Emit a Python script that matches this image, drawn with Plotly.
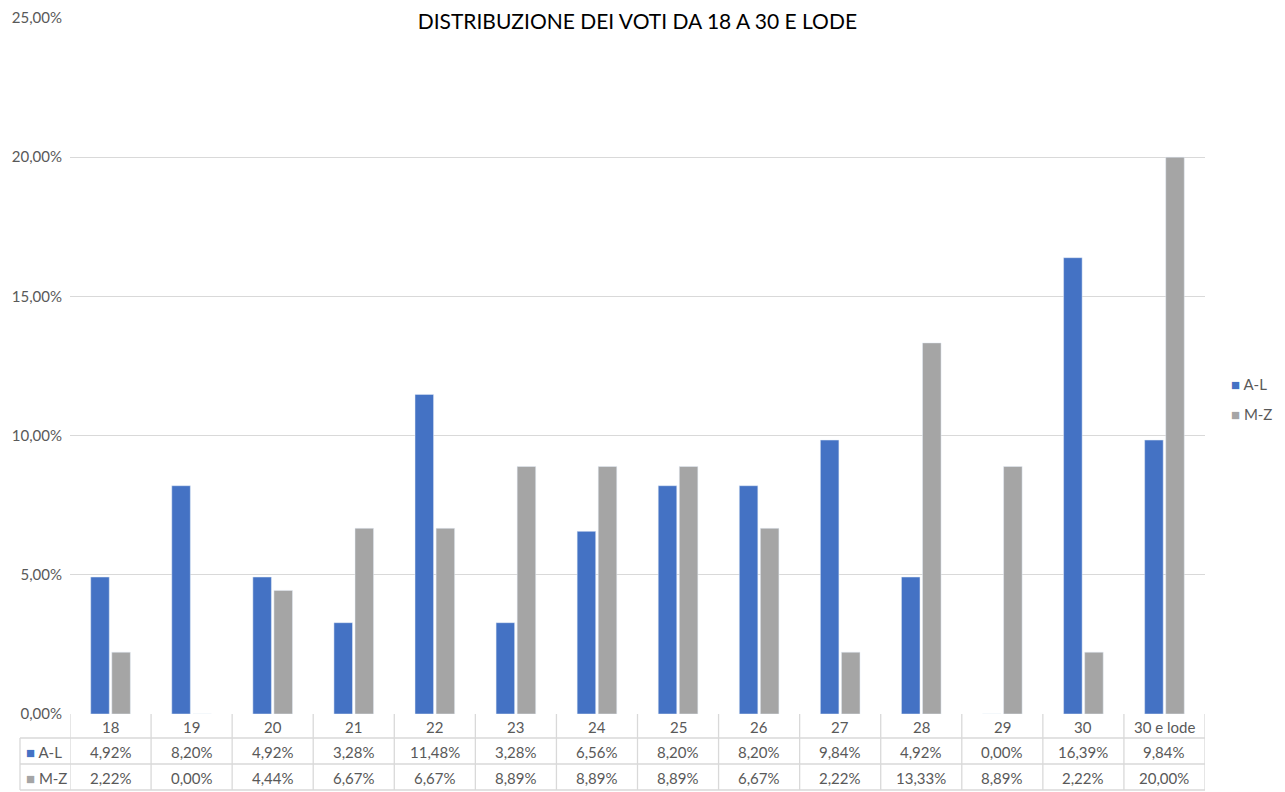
import plotly.graph_objects as go

categories = ["18", "19", "20", "21", "22", "23", "24", "25", "26", "27", "28", "29", "30", "30 e lode"]
al_values = [4.92, 8.20, 4.92, 3.28, 11.48, 3.28, 6.56, 8.20, 8.20, 9.84, 4.92, 0.00, 16.39, 9.84]
mz_values = [2.22, 0.00, 4.44, 6.67, 6.67, 8.89, 8.89, 8.89, 6.67, 2.22, 13.33, 8.89, 2.22, 20.00]
series_names = ["A-L", "M-Z"]
series_colors = ["#4472C4", "#A5A5A5"]

W, H = 1285, 792
ML, MR, MT, MB = 70, 80, 18, 78
PW = W - ML - MR
PH = H - MT - MB
FONT = "Lato, 'Open Sans', sans-serif"
TXT = "#595959"
GRID = "#D9D9D9"
FS = 15

def py(px_below):
    return -px_below / PH

def py_abs(px_y):
    return 1 - (px_y - MT) / PH

def px_x(px):
    return (px - ML) / PW

fig = go.Figure()
for name, vals, col in zip(series_names, [al_values, mz_values], series_colors):
    fig.add_trace(go.Bar(x=categories, y=[v / 100 for v in vals], name=name,
                         marker_color=col))

shapes = []
annotations = []
n = len(categories)
row_h = [24, 26, 26]
y_acc = 0
for i, h in enumerate(row_h):
    y_acc += h
    shapes.append(dict(type="line", xref="paper", yref="paper", x0=px_x(20), x1=1,
                       y0=py(y_acc), y1=py(y_acc), line=dict(color=GRID, width=1.3)))
total = sum(row_h)
for i in range(n + 1):
    shapes.append(dict(type="line", xref="x", yref="paper", x0=i - 0.5, x1=i - 0.5,
                       y0=0, y1=py(total), line=dict(color=GRID, width=1.3)))
shapes.append(dict(type="line", xref="paper", yref="paper", x0=px_x(20), x1=px_x(20),
                   y0=py(row_h[0]), y1=py(total), line=dict(color=GRID, width=1.3)))

def fmt(v):
    return f"{v:.2f}%".replace(".", ",")

def ann(**kw):
    base = dict(showarrow=False, yanchor="middle", xanchor="center",
                font=dict(size=FS, color=TXT, family=FONT))
    base.update(kw)
    annotations.append(base)

for i, c in enumerate(categories):
    ann(x=i, y=py(row_h[0] / 2 + 1), xref="x", yref="paper", text=c)
    for r, vals in enumerate([al_values, mz_values]):
        yc = row_h[0] + sum(row_h[1:1 + r]) + row_h[1 + r] / 2 + 1
        ann(x=i, y=py(yc), xref="x", yref="paper", text=fmt(vals[i]))
for r, (name, col) in enumerate(zip(series_names, series_colors)):
    yc = row_h[0] + sum(row_h[1:1 + r]) + row_h[1 + r] / 2 + 1
    ann(x=px_x(24), y=py(yc), xref="paper", yref="paper", xanchor="left",
        text=f"<span style='color:{col}'>■</span> {name}")
for r, (name, col) in enumerate(zip(series_names, series_colors)):
    ann(x=px_x(1229), y=py_abs(384 + 30 * r), xref="paper", yref="paper", xanchor="left",
        text=f"<span style='color:{col}'>■</span> {name}")

fig.update_layout(
    width=W, height=H,
    margin=dict(l=ML, r=MR, t=MT, b=MB, autoexpand=False),
    paper_bgcolor="white", plot_bgcolor="white",
    separators=",.",
    title=dict(text="DISTRIBUZIONE DEI VOTI DA 18 A 30 E LODE", x=0.496, xanchor="center",
               y=1 - 22 / H, yanchor="middle", font=dict(size=21, color="black", family=FONT)),
    barmode="group", bargap=0.48, bargroupgap=0.12,
    yaxis=dict(range=[0, 0.25], dtick=0.05, tickformat=".2%", gridcolor=GRID, gridwidth=1.3,
               zeroline=False, showline=False, ticks="", ticklabelstandoff=7, automargin=False,
               tickfont=dict(size=FS, color=TXT, family=FONT)),
    xaxis=dict(showticklabels=False, showgrid=False, zeroline=False, showline=False,
               range=[-0.5, n - 0.5], automargin=False),
    shapes=shapes, annotations=annotations,
    showlegend=False,
)
fig.write_html("out.html", config={"displayModeBar": False},
               post_script="document.body.style.margin='0';document.body.style.overflow='hidden';")
